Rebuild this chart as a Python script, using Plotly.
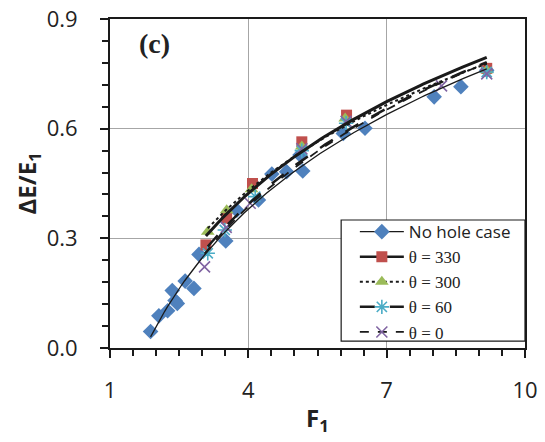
import numpy as np
import plotly.graph_objects as go

# ---- data ----
nohole_x = [1.88, 2.06, 2.25, 2.35, 2.41, 2.46, 2.63, 2.82, 2.93, 3.51, 3.75, 4.22, 4.51, 4.83, 5.12, 5.18, 6.06, 6.53, 8.03, 8.61, 9.17]
nohole_y = [0.045, 0.088, 0.102, 0.157, 0.130, 0.122, 0.183, 0.163, 0.256, 0.293, 0.377, 0.405, 0.476, 0.482, 0.528, 0.484, 0.587, 0.601, 0.687, 0.715, 0.760]

t330_x = [3.08, 3.53, 4.09, 5.16, 6.13, 9.17]
t330_y = [0.282, 0.355, 0.450, 0.564, 0.637, 0.765]

t300_x = [3.12, 3.53, 4.07, 5.16, 6.10, 9.17]
t300_y = [0.318, 0.377, 0.434, 0.551, 0.628, 0.760]

t60_x = [3.12, 3.49, 4.15, 5.16, 6.12, 9.17]
t60_y = [0.259, 0.323, 0.414, 0.540, 0.615, 0.755]

t0_x = [3.05, 3.52, 4.04, 5.16, 6.12, 8.19, 9.17]
t0_y = [0.222, 0.330, 0.396, 0.545, 0.620, 0.717, 0.750]

x_ticks = [1, 4, 7, 10]
y_ticks = [0.0, 0.3, 0.6, 0.9]

series = [
    dict(name="No hole case", x=nohole_x, y=nohole_y, color="#4F81BD", symbol="diamond", size=12,
         lcolor="#1a1a1a", lw=1.3, dash="solid", legend="legend"),
    dict(name="θ = 330", x=t330_x, y=t330_y, color="#C0504D", symbol="square", size=11,
         lcolor="#1a1a1a", lw=3, dash="solid", legend="legend2"),
    dict(name="θ = 300", x=t300_x, y=t300_y, color="#9BBB59", symbol="triangle-up", size=12,
         lcolor="#1a1a1a", lw=2, dash="dot", legend="legend2"),
    dict(name="θ = 60", x=t60_x, y=t60_y, color="#4BACC6", symbol="asterisk-open", size=12,
         lcolor="#1a1a1a", lw=2.5, dash="longdash", legend="legend2"),
    dict(name="θ = 0", x=t0_x, y=t0_y, color="#8064A2", symbol="x-thin-open", size=11,
         lcolor="#1a1a1a", lw=1.8, dash="dash", legend="legend2"),
]

fig = go.Figure()

# markers
for s in series:
    open_sym = s["symbol"].endswith("open")
    fig.add_trace(go.Scatter(
        x=s["x"], y=s["y"], mode="markers", showlegend=False,
        marker=dict(symbol=s["symbol"], size=s["size"], color=s["color"],
                    line=dict(width=1.6 if open_sym else 0, color=s["color"])),
    ))

# logarithmic trendlines fitted to each series
for s in series:
    xs = np.array(s["x"])
    ys = np.array(s["y"])
    a, b = np.polyfit(np.log(xs), ys, 1)
    xf = np.linspace(xs.min(), xs.max(), 120)
    fig.add_trace(go.Scatter(
        x=xf, y=a * np.log(xf) + b, mode="lines", showlegend=False,
        line=dict(color=s["lcolor"], width=s["lw"], dash=s["dash"]),
    ))

# legend entries
for s in series:
    open_sym = s["symbol"].endswith("open")
    fig.add_trace(go.Scatter(
        x=[None], y=[None], mode="lines+markers", name=s["name"], legend=s["legend"],
        line=dict(color=s["lcolor"], width=min(s["lw"], 2.5), dash=s["dash"]),
        marker=dict(symbol=s["symbol"], size=s["size"], color=s["color"],
                    line=dict(width=1.6 if open_sym else 0, color=s["color"])),
    ))

axis_common = dict(
    showline=True, linecolor="#1a1a1a", linewidth=2, mirror=True,
    ticks="outside", ticklen=8, tickwidth=2, tickcolor="#1a1a1a",
    showgrid=True, gridcolor="#A6A6A6", gridwidth=1.3,
    zeroline=False, ticklabeloverflow="allow",
    tickfont=dict(family="Open Sans", size=22, color="#222"),
)

fig.update_xaxes(
    range=[1, 10], tickvals=x_ticks, ticktext=[str(v) for v in x_ticks],
    minor=dict(dtick=0.5, tick0=1, ticks="outside", ticklen=6, tickwidth=2, tickcolor="#1a1a1a", showgrid=False),
    ticklabelstandoff=14,
    **axis_common,
)
fig.update_yaxes(
    range=[0, 0.9], tickvals=y_ticks, ticktext=[f"{v:.1f}" for v in y_ticks],
    minor=dict(dtick=0.06, tick0=0, ticks="outside", ticklen=6, tickwidth=2, tickcolor="#1a1a1a", showgrid=False),
    ticklabelstandoff=18,
    **axis_common,
)

fig.add_annotation(text="<b>F<sub>1</sub></b>", xref="paper", yref="paper", x=0.5, y=-0.215,
                   xanchor="center", yanchor="middle", showarrow=False,
                   font=dict(family="Open Sans", size=24, color="#222"))
fig.add_annotation(text="<b>ΔE/E<sub>1</sub></b>", xref="paper", yref="paper", x=-0.2, y=0.5,
                   xanchor="center", yanchor="middle", textangle=-90, showarrow=False,
                   font=dict(family="Open Sans", size=24, color="#222"))
fig.add_annotation(text="<b>(c)</b>", xref="paper", yref="paper", x=0.108, y=0.925,
                   xanchor="center", yanchor="middle", showarrow=False,
                   font=dict(family="Liberation Serif", size=28, color="#222"))

# legend frame (white box covering the curves beneath)
fig.add_shape(type="rect", xref="paper", yref="paper", x0=0.557, x1=1.0, y0=0.021, y1=0.389,
              fillcolor="white", line=dict(color="#1a1a1a", width=1.2), layer="above")

fig.update_layout(
    width=545, height=442,
    margin=dict(l=110, r=20, t=19, b=94, autoexpand=False),
    paper_bgcolor="white", plot_bgcolor="white",
    legend=dict(x=0.59, y=0.407, xanchor="left", yanchor="top",
                bgcolor="rgba(0,0,0,0)", borderwidth=0,
                font=dict(family="Open Sans", size=17, color="#222"),
                tracegroupgap=0, itemwidth=44),
    legend2=dict(x=0.59, y=0.331, xanchor="left", yanchor="top",
                 bgcolor="rgba(0,0,0,0)", borderwidth=0,
                 font=dict(family="Liberation Serif", size=17, color="#222"),
                 tracegroupgap=0, itemwidth=44),
)

fig.write_html("out.html", config={"displayModeBar": False},
               post_script="document.body.style.margin='0';")
